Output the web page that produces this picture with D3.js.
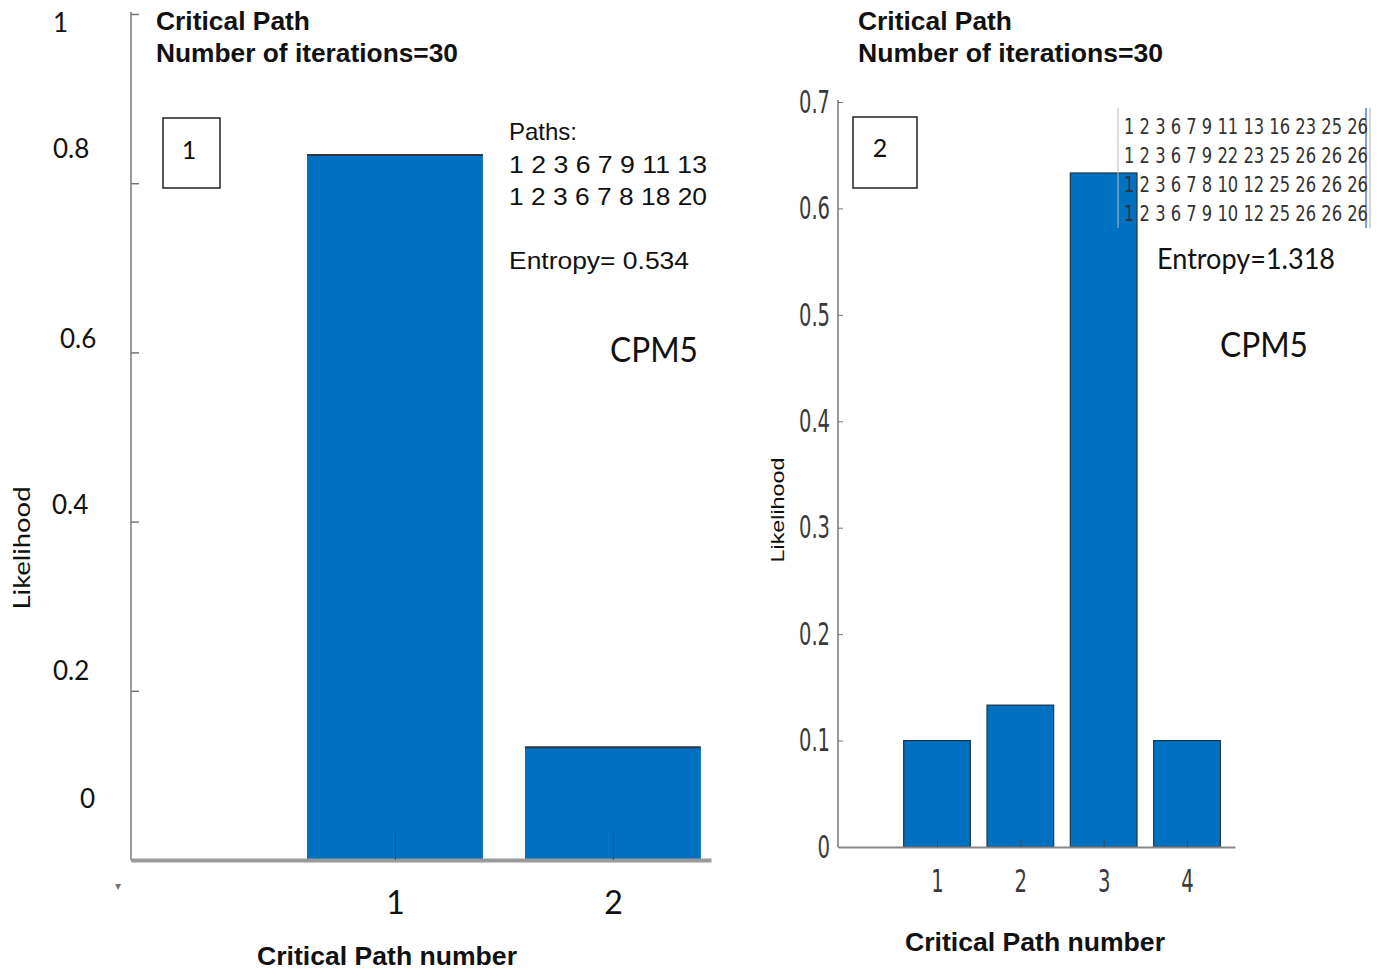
<!DOCTYPE html>
<html>
<head>
<meta charset="utf-8">
<script src="https://cdn.jsdelivr.net/npm/d3@7"></script>
<style>
  html, body { margin: 0; padding: 0; background: #fff; }
  svg { display: block; }
</style>
</head>
<body>
<div id="chart"></div>
<script>
// ---- data ----
const leftCategories = [1, 2];
const leftValues = [0.8333, 0.1333];
const leftTicks = [0, 0.2, 0.4, 0.6, 0.8, 1];
const leftTickLabels = ["0", "0.2", "0.4", "0.6", "0.8", "1"];
const leftPaths = ["1 2 3 6 7 9 11 13", "1 2 3 6 7 8 18 20"];
const leftEntropy = "Entropy= 0.534";

const rightCategories = [1, 2, 3, 4];
const rightValues = [0.1, 0.1333, 0.6333, 0.1];
const rightTicks = [0, 0.1, 0.2, 0.3, 0.4, 0.5, 0.6, 0.7];
const rightPaths = [
  "1  2  3  6  7  9 11 13 16 23 25 26",
  "1  2  3  6  7  9 22 23 25 26 26 26",
  "1  2  3  6  7  8 10 12 25 26 26 26",
  "1  2  3  6  7  9 10 12 25 26 26 26"
];
const rightEntropy = "Entropy=1.318";

const titleLines = ["Critical Path", "Number of iterations=30"];
const xTitle = "Critical Path number";
const yTitle = "Likelihood";
const modelName = "CPM5";

// ---- styling ----
const W = 1387, H = 969;
const barColor = "#0070c0";
const arial = "'Liberation Sans', Arial, sans-serif";
const narrow = "'Liberation Sans Narrow', 'DejaVu Sans Condensed', Arial, sans-serif";
const calibri = "Lato, 'Open Sans', sans-serif";

const svg = d3.select("#chart").append("svg")
    .attr("width", W)
    .attr("height", H);

function addText(g, str, x, y, opts) {
  const t = g.append("text")
      .attr("x", x)
      .attr("y", y)
      .attr("font-family", opts.font || arial)
      .attr("font-size", opts.size || 24)
      .attr("font-weight", opts.weight || "normal")
      .attr("text-anchor", opts.anchor || "start")
      .attr("fill", opts.fill || "#111")
      .text(str);
  if (opts.len) t.attr("textLength", opts.len).attr("lengthAdjust", "spacingAndGlyphs");
  if (opts.rotate) t.attr("transform", `rotate(-90,${x},${y})`);
  return t;
}

// squeeze MATLAB-style tick labels (narrow Helvetica look)
function narrowLen(s) {
  return s.split("").reduce((a, c) => a + (c === "." ? 6 : 12.5), 0);
}

// ================= left panel =================
const left = svg.append("g");
const yL = d3.scaleLinear().domain([0, 1]).range([860, 14]);
const xL = d3.scaleLinear().domain([-0.211, 2.45]).range([131, 711]);
const bwL = 0.807 * (xL(2) - xL(1));

left.selectAll("rect.bar")
  .data(leftValues)
  .join("rect")
    .attr("class", "bar")
    .attr("x", (d, i) => xL(leftCategories[i]) - bwL / 2)
    .attr("y", d => yL(d))
    .attr("width", bwL)
    .attr("height", d => yL(0) - yL(d))
    .attr("fill", barColor);

left.selectAll("line.top")
  .data(leftValues)
  .join("line")
    .attr("class", "top")
    .attr("x1", (d, i) => xL(leftCategories[i]) - bwL / 2)
    .attr("x2", (d, i) => xL(leftCategories[i]) + bwL / 2)
    .attr("y1", d => yL(d))
    .attr("y2", d => yL(d))
    .attr("stroke", "#2b3540")
    .attr("stroke-width", 2);

// y axis (labels in the figure sit oddly off their ticks)
const labelShift = [[-51, -53], [-78, -11], [-79, -8], [-71, -5], [-78, -26], [-78, 17]];
const yAxisL = left.append("g")
    .attr("transform", `translate(${xL.range()[0]},0)`)
    .call(d3.axisLeft(yL).tickValues(leftTicks).tickSizeInner(-8).tickSizeOuter(0)
      .tickFormat((d, i) => leftTickLabels[i]));
yAxisL.select(".domain").attr("stroke", "#9a9a9a").attr("stroke-width", 2)
    .attr("d", `M0,${yL(1) - 2}V${yL(0)}`);
yAxisL.selectAll(".tick line").attr("stroke", "#777").attr("stroke-width", 1.5);
yAxisL.selectAll(".tick text")
    .attr("font-family", calibri)
    .attr("font-size", 26)
    .attr("fill", "#111")
    .attr("text-anchor", "start")
    .attr("dy", null)
    .attr("x", (d, i) => labelShift[i][0])
    .attr("y", (d, i) => labelShift[i][1]);

// x axis
const xAxisL = left.append("g")
    .attr("transform", `translate(0,${yL(0)})`)
    .call(d3.axisBottom(xL).tickValues(leftCategories).tickSizeInner(-28).tickSizeOuter(0)
      .tickPadding(31).tickFormat(d3.format("d")));
xAxisL.select(".domain").attr("stroke", "#9a9a9a").attr("stroke-width", 4);
xAxisL.selectAll(".tick line").attr("stroke", "#3a4a5a").attr("stroke-width", 1);
xAxisL.selectAll(".tick text")
    .attr("font-family", calibri)
    .attr("font-size", 32)
    .attr("fill", "#111");

addText(left, "\u25BE", 118, 890, { size: 12, fill: "#777", anchor: "middle" });

// titles & annotations
addText(left, titleLines[0], 156, 30, { size: 26, weight: "bold", len: 154 });
addText(left, titleLines[1], 156, 62, { size: 26, weight: "bold", len: 302 });
left.append("rect").attr("x", 163).attr("y", 118).attr("width", 57).attr("height", 70)
    .attr("fill", "none").attr("stroke", "#222").attr("stroke-width", 1.5);
addText(left, "1", 189, 159, { font: calibri, size: 25, anchor: "middle" });
addText(left, "Paths:", 509, 140, { size: 24 });
leftPaths.forEach((p, i) => addText(left, p, 509, 173 + i * 32, { size: 24, len: 198 }));
addText(left, leftEntropy, 509, 269, { size: 24, len: 180 });
addText(left, modelName, 610, 362, { font: calibri, size: 34, len: 88 });
addText(left, yTitle, 30, 548, { font: calibri, size: 24, anchor: "middle", rotate: true, len: 123 });
addText(left, xTitle, 387, 965, { size: 26, weight: "bold", anchor: "middle", len: 260 });

// ================= right panel =================
const right = svg.append("g");
const yR = d3.scaleLinear().domain([0, 0.7]).range([847, 102]);
const xR = d3.scaleLinear().domain([-0.188, 4.576]).range([838, 1235]);
const bwR = 0.8 * (xR(2) - xR(1));

right.selectAll("rect.bar")
  .data(rightValues)
  .join("rect")
    .attr("class", "bar")
    .attr("x", (d, i) => xR(rightCategories[i]) - bwR / 2)
    .attr("y", d => yR(d))
    .attr("width", bwR)
    .attr("height", d => yR(0) - yR(d))
    .attr("fill", barColor)
    .attr("stroke", "#1f3446")
    .attr("stroke-width", 1.2);

const yAxisR = right.append("g")
    .attr("transform", `translate(${xR.range()[0]},0)`)
    .call(d3.axisLeft(yR).tickValues(rightTicks).tickSizeInner(-5).tickSizeOuter(0)
      .tickPadding(8).tickFormat(d => d === 0 ? "0" : d3.format(".1f")(d)));
yAxisR.select(".domain").attr("stroke", "#999").attr("stroke-width", 2)
    .attr("d", `M0,${yR(0.7) - 2}V${yR(0)}`);
yAxisR.selectAll(".tick line").attr("stroke", "#777");
yAxisR.selectAll(".tick text")
    .attr("font-family", narrow)
    .attr("font-size", 32)
    .attr("fill", "#3a3a3a")
    .attr("lengthAdjust", "spacingAndGlyphs")
    .attr("textLength", function() { return narrowLen(this.textContent); });

const xAxisR = right.append("g")
    .attr("transform", `translate(0,${yR(0)})`)
    .call(d3.axisBottom(xR).tickValues(rightCategories).tickSizeInner(-7).tickSizeOuter(0)
      .tickPadding(22).tickFormat(d3.format("d")));
xAxisR.select(".domain").attr("stroke", "#888").attr("stroke-width", 2);
xAxisR.selectAll(".tick line").attr("stroke", "#3a4a5a");
xAxisR.selectAll(".tick text")
    .attr("font-family", narrow)
    .attr("font-size", 32)
    .attr("fill", "#3a3a3a")
    .attr("lengthAdjust", "spacingAndGlyphs")
    .attr("textLength", function() { return narrowLen(this.textContent); });

addText(right, titleLines[0], 858, 30, { size: 26, weight: "bold", len: 154 });
addText(right, titleLines[1], 858, 62, { size: 26, weight: "bold", len: 305 });
right.append("rect").attr("x", 853).attr("y", 117).attr("width", 64).attr("height", 71)
    .attr("fill", "none").attr("stroke", "#222").attr("stroke-width", 1.5);
addText(right, "2", 880, 157, { font: calibri, size: 25, anchor: "middle" });

// paths table
right.append("line").attr("x1", 1118).attr("x2", 1118).attr("y1", 108).attr("y2", 228)
    .attr("stroke", "#bbb").attr("stroke-width", 1);
right.append("line").attr("x1", 1366).attr("x2", 1366).attr("y1", 108).attr("y2", 228)
    .attr("stroke", "#5b7fbf").attr("stroke-width", 1.5);
right.append("line").attr("x1", 1370).attr("x2", 1370).attr("y1", 108).attr("y2", 228)
    .attr("stroke", "#aaa").attr("stroke-width", 1);
rightPaths.forEach((p, i) => addText(right, p, 1124, 134 + i * 29,
    { font: narrow, size: 21, fill: "#333", len: 244 }));

addText(right, rightEntropy, 1157, 269, { font: calibri, size: 28, len: 178 });
addText(right, modelName, 1220, 357, { font: calibri, size: 34, len: 88 });
addText(right, yTitle, 784, 510, { size: 19, anchor: "middle", rotate: true, len: 105 });
addText(right, xTitle, 1035, 951, { size: 26, weight: "bold", anchor: "middle", len: 260 });
</script>
</body>
</html>
